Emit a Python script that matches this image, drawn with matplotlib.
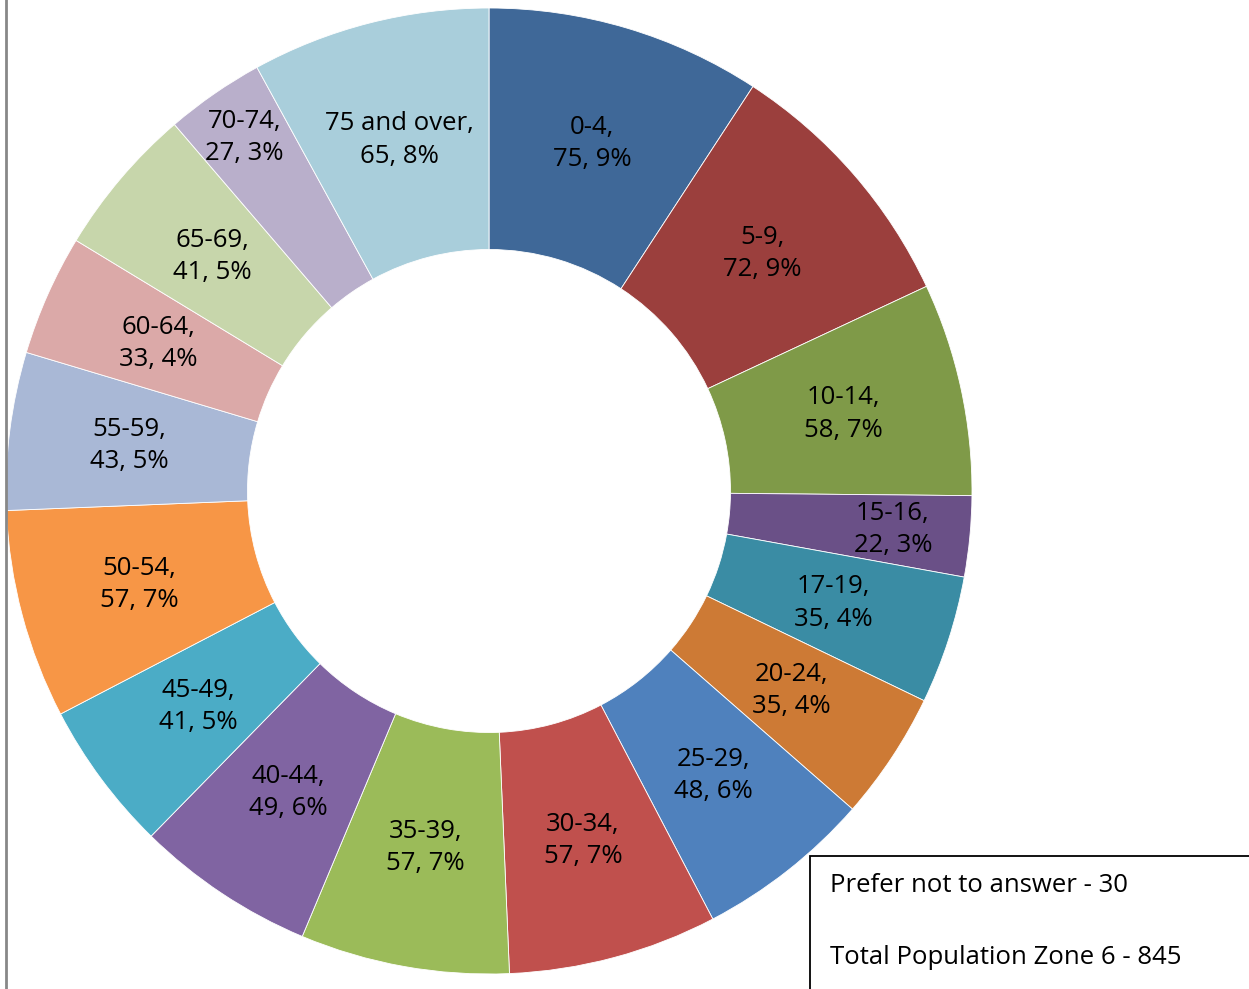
import matplotlib
matplotlib.use('Agg')
import numpy as np
import matplotlib.pyplot as plt
from matplotlib.patches import Rectangle

plt.rcParams['font.family'] = ['Open Sans', 'DejaVu Sans']

# age groups and counts (Zone 6)
groups = ['0-4', '5-9', '10-14', '15-16', '17-19', '20-24', '25-29', '30-34',
          '35-39', '40-44', '45-49', '50-54', '55-59', '60-64', '65-69',
          '70-74', '75 and over']
counts = [75, 72, 58, 22, 35, 35, 48, 57, 57, 49, 41, 57, 43, 33, 41, 27, 65]
colors = ['#3F6898', '#9B3F3D', '#7F9A48', '#6A5087', '#3A8CA4', '#CD7A35',
          '#4F81BD', '#C0504D', '#9BBB59', '#8064A2', '#4BACC6', '#F79646',
          '#A9B8D6', '#DBA9A8', '#C7D6AB', '#B9AFCB', '#A9CEDB']
no_answer = 30
total_pop = 845

W, H = 1249, 989
fig = plt.figure(figsize=(W / 100, H / 100), dpi=100)
ax = fig.add_axes([0, 0, 1, 1])

cx, cy, R = 489, H - 491, 483
wedges, _ = ax.pie(counts, colors=colors, startangle=90, counterclock=False,
                   center=(cx, cy), radius=R, frame=True,
                   wedgeprops=dict(width=R * 0.5, edgecolor='white', linewidth=0.6))
ax.set_xlim(0, W)
ax.set_ylim(0, H)
ax.set_aspect('auto')
ax.axis('off')

# labels of the thin slices sit further out, as in the original
label_r = {'15-16': 0.84, '70-74': 0.89}

tot = sum(counts)
fs = 18.5
for w, g, c in zip(wedges, groups, counts):
    ang = np.deg2rad((w.theta1 + w.theta2) / 2)
    r_lab = R * label_r.get(g, 0.75)
    x = cx + r_lab * np.cos(ang)
    y = cy + r_lab * np.sin(ang)
    pct = round(100 * c / tot)
    ax.text(x, y, f'{g},\n{c}, {pct}%', ha='center', va='center',
            fontsize=fs, linespacing=1.38, color='black')

# note box at bottom right
ax.add_patch(Rectangle((810, -10), 500, H - 856 + 10, fill=False,
                       edgecolor='black', linewidth=1.3))
ax.text(830, H - 885, f'Prefer not to answer - {no_answer}', ha='left', va='center',
        fontsize=fs)
ax.text(830, H - 957, f'Total Population Zone 6 - {total_pop}', ha='left', va='center',
        fontsize=fs)

# frame edge on the left
ax.plot([6, 6], [0, H], color='#888888', linewidth=2)

plt.savefig('out.png', dpi=100)
